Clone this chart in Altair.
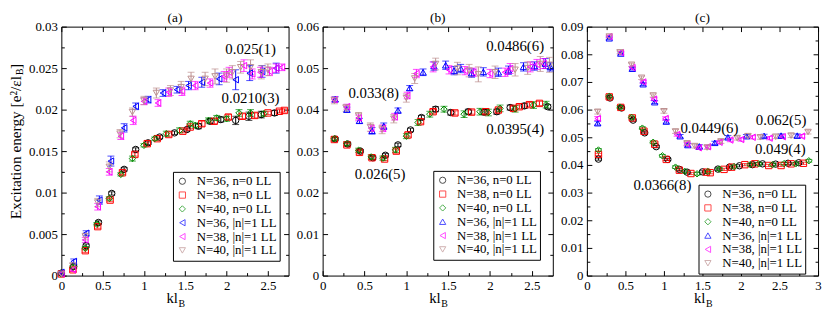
import altair as alt
import pandas as pd

SERIF = "Liberation Serif"
SERIES = ["N=36, n=0 LL", "N=38, n=0 LL", "N=40, n=0 LL",
          "N=36, |n|=1 LL", "N=38, |n|=1 LL", "N=40, |n|=1 LL"]
COLORS = ["#000000", "#ff0000", "#008b00", "#0000ff", "#ff00ff", "#bc8f8f"]
SHAPES_A = ["circle", "square", "diamond", "triangle-left", "triangle-left", "triangle-down"]
SHAPES_BC = ["circle", "square", "diamond", "triangle-up", "triangle-left", "triangle-down"]
LETTERS = ["(a)", "(b)", "(c)"]
X_TITLE_MAIN = "kl"
X_TITLE_SUB = "B"
Y_TITLE_MAIN = "Excitation energy [e²/εl"
Y_TITLE_SUB = "B"
Y_TITLE_END = "]"

# ---------------- panel (a) ----------------
A36_0_K = [0.0, 0.15, 0.30, 0.45, 0.61, 0.76, 0.90, 1.05, 1.19, 1.37, 1.52, 1.66, 1.80, 1.93, 2.11, 2.27, 2.42, 2.58]
A36_0_E = [0.0003, 0.0011, 0.0036, 0.0064, 0.0099, 0.0128, 0.0152, 0.0160, 0.0167, 0.0172, 0.0176, 0.0180, 0.0186, 0.0188, 0.0187, 0.0192, 0.0194, 0.0196]
A36_0_D = [0.0001, 0.0002, 0.0002, 0.0002, 0.0002, 0.0002, 0.0002, 0.0002, 0.0002, 0.0002, 0.0002, 0.0003, 0.0003, 0.0003, 0.0005, 0.0005, 0.0004, 0.0003]
A38_0_K = [0.0, 0.14, 0.29, 0.44, 0.59, 0.74, 0.89, 1.04, 1.16, 1.30, 1.47, 1.56, 1.70, 1.85, 2.02, 2.19, 2.34, 2.50, 2.64, 2.70]
A38_0_E = [0.0002, 0.0007, 0.0030, 0.0059, 0.0091, 0.0124, 0.0146, 0.0159, 0.0165, 0.0170, 0.0174, 0.0179, 0.0183, 0.0186, 0.0191, 0.0192, 0.0193, 0.0196, 0.0198, 0.0199]
A38_0_D = [0.0001, 0.0002, 0.0002, 0.0002, 0.0002, 0.0002, 0.0002, 0.0002, 0.0002, 0.0002, 0.0002, 0.0002, 0.0003, 0.0003, 0.0003, 0.0003, 0.0003, 0.0002, 0.0002, 0.0002]
A40_0_K = [0.0, 0.14, 0.29, 0.43, 0.58, 0.72, 0.86, 1.00, 1.13, 1.27, 1.43, 1.56, 1.62, 1.78, 1.88, 2.00, 2.15, 2.29, 2.45]
A40_0_E = [0.0002, 0.0010, 0.0033, 0.0062, 0.0093, 0.0122, 0.0141, 0.0157, 0.0165, 0.0171, 0.0175, 0.0183, 0.0181, 0.0187, 0.0190, 0.0189, 0.0196, 0.0196, 0.0195]
A40_0_D = [0.0001, 0.0002, 0.0002, 0.0002, 0.0002, 0.0002, 0.0003, 0.0002, 0.0002, 0.0003, 0.0003, 0.0003, 0.0003, 0.0003, 0.0003, 0.0003, 0.0004, 0.0004, 0.0003]
A36_1_K = [0.0, 0.15, 0.30, 0.46, 0.60, 0.76, 0.90, 1.05, 1.23, 1.40, 1.54, 1.70, 1.91, 2.11, 2.28, 2.43, 2.60]
A36_1_E = [0.0004, 0.0017, 0.0051, 0.0091, 0.0138, 0.0178, 0.0204, 0.0212, 0.0220, 0.0224, 0.0229, 0.0233, 0.0237, 0.0236, 0.0244, 0.0246, 0.0250]
A36_1_D = [0.0002, 0.0003, 0.0003, 0.0005, 0.0006, 0.0005, 0.0004, 0.0004, 0.0004, 0.0004, 0.0005, 0.0006, 0.0007, 0.0012, 0.0009, 0.0007, 0.0006]
A38_1_K = [0.0, 0.14, 0.29, 0.44, 0.58, 0.72, 0.87, 1.00, 1.17, 1.30, 1.46, 1.62, 1.80, 1.97, 2.03, 2.21, 2.31, 2.41, 2.52, 2.60, 2.67]
A38_1_E = [0.0002, 0.0007, 0.0043, 0.0083, 0.0125, 0.0168, 0.0187, 0.0210, 0.0208, 0.0221, 0.0222, 0.0229, 0.0232, 0.0240, 0.0245, 0.0253, 0.0243, 0.0245, 0.0246, 0.0250, 0.0251]
A38_1_D = [0.0002, 0.0002, 0.0003, 0.0004, 0.0004, 0.0004, 0.0005, 0.0004, 0.0004, 0.0005, 0.0005, 0.0005, 0.0005, 0.0006, 0.0006, 0.0007, 0.0006, 0.0006, 0.0005, 0.0005, 0.0004]
A40_1_K = [0.0, 0.14, 0.29, 0.44, 0.58, 0.71, 0.86, 1.00, 1.15, 1.32, 1.45, 1.57, 1.74, 1.86, 2.00, 2.07, 2.17, 2.29, 2.42, 2.50]
A40_1_E = [0.0002, 0.0012, 0.0047, 0.0088, 0.0131, 0.0171, 0.0197, 0.0211, 0.0220, 0.0223, 0.0227, 0.0237, 0.0237, 0.0240, 0.0241, 0.0245, 0.0251, 0.0251, 0.0245, 0.0248]
A40_1_D = [0.0002, 0.0003, 0.0004, 0.0005, 0.0006, 0.0005, 0.0005, 0.0005, 0.0006, 0.0006, 0.0007, 0.0008, 0.0008, 0.0009, 0.0008, 0.0008, 0.0007, 0.0009, 0.0008, 0.0007]
A_ANN_TEXT = ["0.025(1)", "0.0210(3)"]
A_ANN_K = [2.29, 2.29]
A_ANN_E = [0.0273, 0.02145]

# ---------------- panel (b) ----------------
B36_0_K = [0.15, 0.30, 0.45, 0.60, 0.75, 0.90, 1.05, 1.18, 1.35, 1.53, 1.74, 1.93, 2.08, 2.24, 2.41, 2.69]
B36_0_E = [0.0329, 0.0317, 0.0300, 0.0284, 0.0290, 0.0315, 0.0351, 0.0381, 0.0401, 0.0393, 0.0395, 0.0394, 0.0395, 0.0405, 0.0409, 0.0407]
B36_0_D = [0.0004, 0.0004, 0.0004, 0.0004, 0.0004, 0.0004, 0.0004, 0.0005, 0.0006, 0.0006, 0.0006, 0.0006, 0.0006, 0.0006, 0.0006, 0.0005]
B38_0_K = [0.14, 0.29, 0.44, 0.59, 0.74, 0.88, 1.02, 1.17, 1.32, 1.58, 1.78, 1.95, 2.10, 2.28, 2.35, 2.47, 2.59]
B38_0_E = [0.0328, 0.0315, 0.0297, 0.0284, 0.0281, 0.0300, 0.0339, 0.0371, 0.0395, 0.0392, 0.0394, 0.0395, 0.0399, 0.0403, 0.0407, 0.0412, 0.0415]
B38_0_D = [0.0004, 0.0004, 0.0004, 0.0004, 0.0004, 0.0005, 0.0005, 0.0005, 0.0005, 0.0005, 0.0005, 0.0005, 0.0005, 0.0005, 0.0005, 0.0005, 0.0005]
B40_0_K = [0.14, 0.29, 0.43, 0.58, 0.72, 0.87, 1.00, 1.14, 1.28, 1.45, 1.69, 1.88, 1.98, 2.12, 2.30, 2.52, 2.67]
B40_0_E = [0.0330, 0.0318, 0.0302, 0.0286, 0.0283, 0.0303, 0.0336, 0.0369, 0.0389, 0.0401, 0.0389, 0.0395, 0.0393, 0.0403, 0.0402, 0.0411, 0.0412]
B40_0_D = [0.0005, 0.0005, 0.0005, 0.0005, 0.0005, 0.0006, 0.0006, 0.0007, 0.0007, 0.0007, 0.0008, 0.0008, 0.0008, 0.0008, 0.0008, 0.0008, 0.0008]
B36_1_K = [0.15, 0.29, 0.44, 0.59, 0.73, 0.90, 1.04, 1.20, 1.33, 1.47, 1.57, 1.65, 1.78, 1.92, 2.10, 2.22, 2.40, 2.53, 2.66, 2.72]
B36_1_E = [0.0425, 0.0400, 0.0373, 0.0349, 0.0360, 0.0398, 0.0452, 0.0490, 0.0505, 0.0507, 0.0494, 0.0499, 0.0488, 0.0491, 0.0490, 0.0495, 0.0503, 0.0505, 0.0511, 0.0503]
B36_1_D = [0.0006, 0.0006, 0.0006, 0.0008, 0.0008, 0.0006, 0.0006, 0.0008, 0.0010, 0.0010, 0.0010, 0.0010, 0.0010, 0.0010, 0.0010, 0.0010, 0.0010, 0.0010, 0.0012, 0.0010]
B38_1_K = [0.14, 0.29, 0.43, 0.58, 0.72, 0.86, 1.01, 1.12, 1.32, 1.51, 1.70, 1.80, 2.00, 2.18, 2.24, 2.48, 2.56, 2.64]
B38_1_E = [0.0424, 0.0407, 0.0380, 0.0355, 0.0355, 0.0383, 0.0434, 0.0487, 0.0503, 0.0496, 0.0494, 0.0490, 0.0487, 0.0490, 0.0499, 0.0503, 0.0509, 0.0511]
B38_1_D = [0.0006, 0.0006, 0.0007, 0.0008, 0.0008, 0.0008, 0.0008, 0.0010, 0.0012, 0.0010, 0.0010, 0.0010, 0.0010, 0.0010, 0.0012, 0.0012, 0.0012, 0.0012]
B40_1_K = [0.14, 0.28, 0.43, 0.57, 0.71, 0.85, 1.00, 1.10, 1.35, 1.61, 1.75, 1.86, 2.06, 2.30, 2.45, 2.60, 2.71]
B40_1_E = [0.0422, 0.0404, 0.0385, 0.0358, 0.0352, 0.0378, 0.0428, 0.0475, 0.0510, 0.0499, 0.0494, 0.0485, 0.0490, 0.0496, 0.0500, 0.0510, 0.0508]
B40_1_D = [0.0008, 0.0008, 0.0008, 0.0010, 0.0010, 0.0010, 0.0010, 0.0012, 0.0014, 0.0015, 0.0015, 0.0018, 0.0015, 0.0015, 0.0015, 0.0018, 0.0018]
B_ANN_TEXT = ["0.0486(6)", "0.033(8)", "0.0395(4)", "0.026(5)"]
B_ANN_K = [2.30, 0.61, 2.30, 0.687]
B_ANN_E = [0.0553, 0.0440, 0.0353, 0.0244]

# ---------------- panel (c) ----------------
C36_0_K = [0.15, 0.30, 0.45, 0.60, 0.75, 0.90, 1.05, 1.20, 1.30, 1.50, 1.70, 1.85, 1.98, 2.15, 2.28, 2.45, 2.61, 2.75]
C36_0_E = [0.0421, 0.0642, 0.0606, 0.0562, 0.0516, 0.0466, 0.0420, 0.0384, 0.0374, 0.0375, 0.0385, 0.0392, 0.0397, 0.0401, 0.0404, 0.0403, 0.0406, 0.0408]
C36_0_D = [0.0004, 0.0004, 0.0004, 0.0004, 0.0004, 0.0004, 0.0004, 0.0004, 0.0004, 0.0004, 0.0004, 0.0004, 0.0004, 0.0004, 0.0004, 0.0004, 0.0004, 0.0004]
C38_0_K = [0.15, 0.29, 0.44, 0.59, 0.74, 0.88, 1.03, 1.20, 1.35, 1.55, 1.60, 1.78, 1.88, 2.05, 2.18, 2.36, 2.52, 2.65, 2.81]
C38_0_E = [0.0438, 0.0646, 0.0608, 0.0570, 0.0522, 0.0475, 0.0420, 0.0381, 0.0369, 0.0374, 0.0372, 0.0384, 0.0392, 0.0401, 0.0404, 0.0398, 0.0398, 0.0404, 0.0406]
C38_0_D = [0.0004, 0.0004, 0.0004, 0.0004, 0.0004, 0.0004, 0.0004, 0.0004, 0.0004, 0.0004, 0.0004, 0.0004, 0.0004, 0.0004, 0.0004, 0.0004, 0.0004, 0.0004, 0.0004]
C40_0_K = [0.15, 0.29, 0.43, 0.58, 0.72, 0.86, 0.98, 1.15, 1.27, 1.43, 1.57, 1.72, 1.91, 2.12, 2.23, 2.41, 2.56, 2.71, 2.88]
C40_0_E = [0.0454, 0.0648, 0.0609, 0.0572, 0.0533, 0.0482, 0.0433, 0.0392, 0.0377, 0.0368, 0.0376, 0.0385, 0.0394, 0.0401, 0.0404, 0.0401, 0.0405, 0.0404, 0.0415]
C40_0_D = [0.0005, 0.0005, 0.0005, 0.0005, 0.0005, 0.0005, 0.0005, 0.0005, 0.0005, 0.0005, 0.0005, 0.0005, 0.0005, 0.0005, 0.0005, 0.0005, 0.0005, 0.0005, 0.0005]
C36_1_K = [0.14, 0.29, 0.44, 0.59, 0.73, 0.88, 1.03, 1.21, 1.31, 1.46, 1.66, 1.83, 2.07, 2.30, 2.52, 2.73]
C36_1_E = [0.0551, 0.0858, 0.0803, 0.0748, 0.0692, 0.0627, 0.0557, 0.0504, 0.0472, 0.0467, 0.0480, 0.0500, 0.0504, 0.0505, 0.0506, 0.0506]
C36_1_D = [0.0007, 0.0005, 0.0005, 0.0005, 0.0005, 0.0005, 0.0006, 0.0006, 0.0006, 0.0006, 0.0006, 0.0006, 0.0006, 0.0006, 0.0006, 0.0006]
C38_1_K = [0.14, 0.29, 0.44, 0.59, 0.73, 0.87, 1.02, 1.17, 1.30, 1.45, 1.57, 1.72, 1.86, 2.00, 2.15, 2.37, 2.54, 2.79]
C38_1_E = [0.0568, 0.0864, 0.0806, 0.0752, 0.0700, 0.0638, 0.0568, 0.0510, 0.0475, 0.0462, 0.0466, 0.0482, 0.0490, 0.0492, 0.0500, 0.0497, 0.0502, 0.0504]
C38_1_D = [0.0007, 0.0005, 0.0005, 0.0005, 0.0005, 0.0005, 0.0006, 0.0006, 0.0006, 0.0006, 0.0006, 0.0006, 0.0006, 0.0006, 0.0006, 0.0006, 0.0006, 0.0006]
C40_1_K = [0.14, 0.29, 0.43, 0.58, 0.71, 0.86, 1.00, 1.15, 1.30, 1.40, 1.56, 1.74, 1.95, 2.09, 2.25, 2.45, 2.65, 2.87]
C40_1_E = [0.0592, 0.0864, 0.0807, 0.0762, 0.0715, 0.0651, 0.0594, 0.0521, 0.0478, 0.0468, 0.0463, 0.0485, 0.0497, 0.0504, 0.0500, 0.0502, 0.0506, 0.0519]
C40_1_D = [0.0008, 0.0005, 0.0005, 0.0006, 0.0006, 0.0006, 0.0007, 0.0007, 0.0007, 0.0007, 0.0007, 0.0007, 0.0007, 0.0007, 0.0007, 0.0007, 0.0007, 0.0007]
C_ANN_TEXT = ["0.0449(6)", "0.062(5)", "0.049(4)", "0.0366(8)"]
C_ANN_K = [1.59, 2.52, 2.51, 0.98]
C_ANN_E = [0.0533, 0.0562, 0.0456, 0.0327]

# ---------------- axes ----------------
X_MAJOR = [0, 0.5, 1, 1.5, 2, 2.5]
X_MINOR = [0.25, 0.75, 1.25, 1.75, 2.25]
C_X_MAJOR = [0, 0.5, 1, 1.5, 2, 2.5, 3]
C_X_MINOR = [0.25, 0.75, 1.25, 1.75, 2.25, 2.75]
A_Y_MAJOR = [0, 0.005, 0.01, 0.015, 0.02, 0.025, 0.03]
A_Y_MINOR = [0.0025, 0.0075, 0.0125, 0.0175, 0.0225, 0.0275]
B_Y_MAJOR = [0, 0.01, 0.02, 0.03, 0.04, 0.05, 0.06]
B_Y_MINOR = [0.005, 0.015, 0.025, 0.035, 0.045, 0.055]
C_Y_MAJOR = [0, 0.01, 0.02, 0.03, 0.04, 0.05, 0.06, 0.07, 0.08, 0.09]
C_Y_MINOR = [0.005, 0.015, 0.025, 0.035, 0.045, 0.055, 0.065, 0.075, 0.085]

H = 252
MAJ = 5
MIN = 3


def build(ks, es, ds):
    rows = []
    for name, col, k, e, d in zip(SERIES, COLORS, ks, es, ds):
        for kk, ee, dd in zip(k, e, d):
            rows.append({"series": name, "col": col, "k": kk, "E": ee,
                         "lo": ee - dd, "hi": ee + dd})
    return pd.DataFrame(rows)


def mk_axis(orient, values, size, labels):
    kw = dict(orient=orient, values=values, tickSize={"expr": str(-size)},
              domain=False, grid=False, labels=labels, ticks=True,
              tickColor="black", tickWidth=1, title=None)
    if labels:
        kw.update(labelFont=SERIF, labelFontSize=13, labelColor="black",
                  labelPadding=size + 4, labelExpr="format(datum.value, '~g')",
                  labelOverlap=False, labelFlush=False)
    return alt.Axis(**kw)


def panel(df, ann, xmax, ymax, xmaj, xmin, ymaj, ymin, shapes, w, lx, ly, letter, ytitle):
    xs = alt.Scale(domain=[0, xmax], nice=False, zero=False)
    ys = alt.Scale(domain=[0, ymax], nice=False, zero=False)
    leg = alt.Legend(title=None, orient="none", legendX=lx, legendY=ly,
                     strokeColor="black", fillColor="white", padding=3,
                     labelFont=SERIF, labelFontSize=13, labelColor="black",
                     symbolSize=40, symbolStrokeWidth=1, rowPadding=0,
                     labelOffset=8)
    base = alt.Chart(df)
    col = alt.Color("col:N", scale=None)
    rule = base.mark_rule(strokeWidth=1).encode(
        x=alt.X("k:Q", scale=xs, axis=None), y=alt.Y("lo:Q", scale=ys, axis=None),
        y2="hi:Q", color=col)
    cap_lo = base.mark_tick(orient="horizontal", size=7, thickness=1).encode(
        x=alt.X("k:Q", scale=xs, axis=None), y=alt.Y("lo:Q", scale=ys, axis=None), color=col)
    cap_hi = base.mark_tick(orient="horizontal", size=7, thickness=1).encode(
        x=alt.X("k:Q", scale=xs, axis=None), y=alt.Y("hi:Q", scale=ys, axis=None), color=col)
    pts = base.mark_point(filled=False, size=42, strokeWidth=1, opacity=1).encode(
        x=alt.X("k:Q", scale=xs, axis=None), y=alt.Y("E:Q", scale=ys, axis=None),
        color=alt.Color("series:N", scale=alt.Scale(domain=SERIES, range=COLORS), legend=leg),
        shape=alt.Shape("series:N", scale=alt.Scale(domain=SERIES, range=shapes), legend=leg))
    ann_l = alt.Chart(ann).mark_text(font=SERIF, fontSize=15, color="black").encode(
        x=alt.X("k:Q", scale=xs, axis=None), y=alt.Y("E:Q", scale=ys, axis=None), text="text:N")

    def axl(xax, yax):
        return base.mark_point(opacity=0).encode(
            x=alt.X("k:Q", scale=xs, axis=xax, title=None),
            y=alt.Y("E:Q", scale=ys, axis=yax, title=None))

    ax1 = axl(mk_axis("bottom", xmaj, MAJ, True), mk_axis("left", ymaj, MAJ, True))
    ax2 = axl(mk_axis("top", xmaj, MAJ, False), mk_axis("right", ymaj, MAJ, False))
    ax3 = axl(mk_axis("bottom", xmin, MIN, False), mk_axis("left", ymin, MIN, False))
    ax4 = axl(mk_axis("top", xmin, MIN, False), mk_axis("right", ymin, MIN, False))

    one = pd.DataFrame({"t": [letter], "a": [X_TITLE_MAIN], "b": [X_TITLE_SUB],
                        "ym": [Y_TITLE_MAIN], "ys": [Y_TITLE_SUB], "ye": [Y_TITLE_END]})
    t_title = alt.Chart(one).mark_text(font=SERIF, fontSize=13.5, baseline="middle", color="black").encode(
        x=alt.value(w / 2), y=alt.value(-9), text="t:N")
    t_kl = alt.Chart(one).mark_text(font=SERIF, fontSize=15, align="right", baseline="alphabetic", color="black").encode(
        x=alt.value(w / 2 + 3), y=alt.value(H + 28), text="a:N")
    t_b = alt.Chart(one).mark_text(font=SERIF, fontSize=10, align="left", baseline="alphabetic", color="black").encode(
        x=alt.value(w / 2 + 3.5), y=alt.value(H + 32), text="b:N")
    layers = [rule, cap_lo, cap_hi, pts, ann_l, t_title, t_kl, t_b, ax1, ax2, ax3, ax4]
    if ytitle:
        yt1 = alt.Chart(one).mark_text(font=SERIF, fontSize=15.5, angle=270, align="right",
                                       baseline="middle", color="black").encode(
            x=alt.value(-46), y=alt.value(50), text="ym:N")
        yt2 = alt.Chart(one).mark_text(font=SERIF, fontSize=10, angle=270, align="left",
                                       baseline="middle", color="black").encode(
            x=alt.value(-42), y=alt.value(49), text="ys:N")
        yt3 = alt.Chart(one).mark_text(font=SERIF, fontSize=15.5, angle=270, align="left",
                                       baseline="middle", color="black").encode(
            x=alt.value(-46), y=alt.value(43), text="ye:N")
        layers += [yt1, yt2, yt3]
    return alt.layer(*layers).resolve_axis(x="independent", y="independent").properties(width=w, height=H)


dfa = build([A36_0_K, A38_0_K, A40_0_K, A36_1_K, A38_1_K, A40_1_K],
            [A36_0_E, A38_0_E, A40_0_E, A36_1_E, A38_1_E, A40_1_E],
            [A36_0_D, A38_0_D, A40_0_D, A36_1_D, A38_1_D, A40_1_D])
dfb = build([B36_0_K, B38_0_K, B40_0_K, B36_1_K, B38_1_K, B40_1_K],
            [B36_0_E, B38_0_E, B40_0_E, B36_1_E, B38_1_E, B40_1_E],
            [B36_0_D, B38_0_D, B40_0_D, B36_1_D, B38_1_D, B40_1_D])
dfc = build([C36_0_K, C38_0_K, C40_0_K, C36_1_K, C38_1_K, C40_1_K],
            [C36_0_E, C38_0_E, C40_0_E, C36_1_E, C38_1_E, C40_1_E],
            [C36_0_D, C38_0_D, C40_0_D, C36_1_D, C38_1_D, C40_1_D])
anna = pd.DataFrame({"text": A_ANN_TEXT, "k": A_ANN_K, "E": A_ANN_E})
annb = pd.DataFrame({"text": B_ANN_TEXT, "k": B_ANN_K, "E": B_ANN_E})
annc = pd.DataFrame({"text": C_ANN_TEXT, "k": C_ANN_K, "E": C_ANN_E})

pa = panel(dfa, anna, 2.75, 0.03, X_MAJOR, X_MINOR, A_Y_MAJOR, A_Y_MINOR, SHAPES_A, 230, 113, 147, LETTERS[0], True)
pb = panel(dfb, annb, 2.75, 0.06, X_MAJOR, X_MINOR, B_Y_MAJOR, B_Y_MINOR, SHAPES_BC, 233, 112, 146, LETTERS[1], False)
pc = panel(dfc, annc, 3.0, 0.09, C_X_MAJOR, C_X_MINOR, C_Y_MAJOR, C_Y_MINOR, SHAPES_BC, 234, 113, 160, LETTERS[2], False)

chart = alt.hconcat(pa, pb, pc, spacing=34.5, bounds="flush").resolve_scale(
    color="independent", shape="independent", x="independent", y="independent"
).resolve_legend(color="independent", shape="independent").configure_view(
    stroke="black", strokeWidth=1
).properties(padding={"left": 0, "top": 0, "right": 0, "bottom": 0}, background="white")

chart.save("out.html", embed_options={"renderer": "svg", "actions": False})
